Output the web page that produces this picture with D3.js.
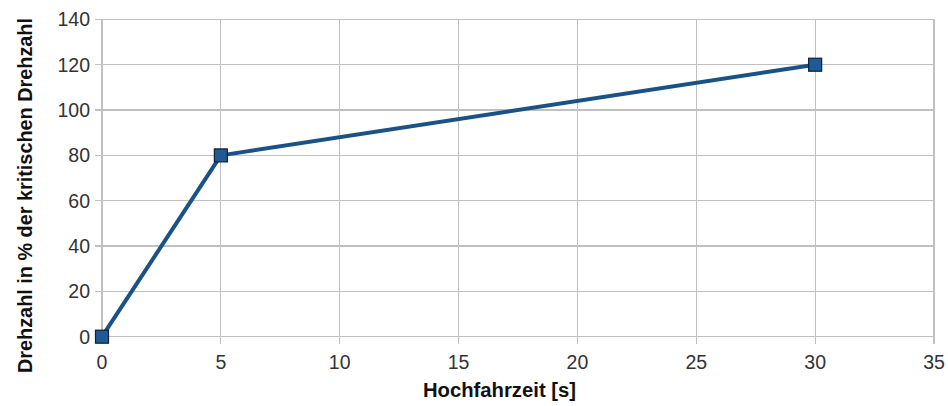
<!DOCTYPE html>
<html><head><meta charset="utf-8">
<script src="https://cdn.jsdelivr.net/npm/d3@7"></script>
<style>body{margin:0;background:#fff}svg{display:block}</style>
</head><body>
<svg id="c" width="948" height="406"></svg>
<script>
const xValues = [0, 5, 30];
const yValues = [0, 80, 120];
const xTicks = [0, 5, 10, 15, 20, 25, 30, 35];
const yTicks = [0, 20, 40, 60, 80, 100, 120, 140];
const xTitle = "Hochfahrzeit [s]";
const yTitle = "Drehzahl in % der kritischen Drehzahl";

const svg = d3.select("#c");
const x = d3.scaleLinear().domain([0, 35]).range([102, 934]);
const y = d3.scaleLinear().domain([0, 140]).range([336.7, 19.4]);
const grid = "#c0c0c0";
const font = "Liberation Sans, Arial, sans-serif";

// grid
svg.append("g").selectAll("line").data(yTicks).join("line")
  .attr("x1", 95).attr("x2", x(35)).attr("y1", d => y(d)).attr("y2", d => y(d))
  .attr("stroke", grid).attr("stroke-width", 1.2).attr("shape-rendering","crispEdges");
svg.append("g").selectAll("line").data(xTicks).join("line")
  .attr("x1", d => x(d)).attr("x2", d => x(d)).attr("y1", y(140)).attr("y2", y(0) + 7)
  .attr("stroke", grid).attr("stroke-width", 1.2).attr("shape-rendering","crispEdges");

// tick labels
svg.append("g").selectAll("text").data(yTicks).join("text")
  .attr("x", 90).attr("y", d => y(d)).attr("dy", "0.36em")
  .attr("text-anchor", "end").attr("font-family", font).attr("font-size", 19.5).attr("fill", "#333")
  .text(d => d);
svg.append("g").selectAll("text").data(xTicks).join("text")
  .attr("x", d => x(d)).attr("y", 368.5)
  .attr("text-anchor", "middle").attr("font-family", font).attr("font-size", 19.5).attr("fill", "#333")
  .text(d => d);

// titles
svg.append("text").attr("x", 499.5).attr("y", 397).attr("text-anchor", "middle")
  .attr("font-family", font).attr("font-size", 20).attr("font-weight", "bold").attr("fill", "#111")
  .attr("textLength", 153).attr("lengthAdjust", "spacingAndGlyphs")
  .text(xTitle);
svg.append("text").attr("transform", "translate(32,195.5) rotate(-90)").attr("text-anchor", "middle")
  .attr("font-family", font).attr("font-size", 20).attr("font-weight", "bold").attr("fill", "#111")
  .attr("textLength", 355).attr("lengthAdjust", "spacingAndGlyphs")
  .text(yTitle);

// line
const pts = xValues.map((v, i) => [v, yValues[i]]);
svg.append("path").datum(pts)
  .attr("d", d3.line().x(d => x(d[0])).y(d => y(d[1])))
  .attr("fill", "none").attr("stroke", "#1a5285").attr("stroke-width", 4).attr("stroke-linejoin", "round");
svg.append("g").selectAll("rect").data(pts).join("rect")
  .attr("x", d => x(d[0]) - 6.5).attr("y", d => y(d[1]) - 6.5)
  .attr("width", 13).attr("height", 13)
  .attr("fill", "#1f5a96").attr("stroke", "#0d2236").attr("stroke-width", 1.2);
</script>
</body></html>
